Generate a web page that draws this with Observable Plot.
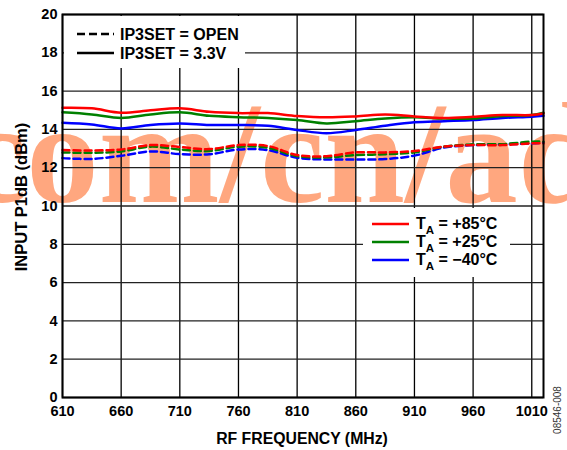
<!DOCTYPE html>
<html>
<head>
<meta charset="utf-8">
<script src="https://cdn.jsdelivr.net/npm/d3@7"></script>
<script src="https://cdn.jsdelivr.net/npm/@observablehq/plot@0.6"></script>
<style>
  html, body { margin: 0; padding: 0; background: #fff; }
</style>
</head>
<body>
<div id="chart"></div>
<script>
// ---- data ----
const freq = [610, 635, 660, 685, 710, 735, 760, 785, 810, 835, 860, 885, 910, 935, 960, 985, 1010, 1020];
const solid85  = [15.13, 15.10, 14.87, 15.00, 15.10, 14.92, 14.85, 14.85, 14.70, 14.63, 14.68, 14.78, 14.68, 14.60, 14.66, 14.75, 14.75, 14.83];
const solid25  = [14.89, 14.78, 14.60, 14.78, 14.89, 14.71, 14.64, 14.60, 14.49, 14.31, 14.43, 14.57, 14.63, 14.57, 14.57, 14.70, 14.75, 14.87];
const solidM40 = [14.35, 14.26, 14.05, 14.23, 14.31, 14.23, 14.23, 14.19, 13.97, 13.80, 13.97, 14.19, 14.37, 14.43, 14.49, 14.60, 14.66, 14.71];
const dashed85  = [12.92, 12.90, 12.95, 13.18, 13.08, 12.97, 13.18, 13.13, 12.66, 12.60, 12.80, 12.80, 12.87, 13.10, 13.18, 13.18, 13.27, 13.27];
const dashed25  = [12.80, 12.78, 12.85, 13.10, 12.95, 12.87, 13.10, 13.04, 12.60, 12.54, 12.66, 12.70, 12.80, 13.10, 13.22, 13.23, 13.36, 13.36];
const dashedM40 = [12.50, 12.46, 12.62, 12.85, 12.71, 12.70, 12.95, 12.92, 12.52, 12.43, 12.43, 12.45, 12.63, 13.05, 13.18, 13.22, 13.27, 13.30];

const tempLabels = ["+85°C", "+25°C", "−40°C"];
const tempColors = ["#ff0000", "#008000", "#0000ff"];
const modeLabels = ["IP3SET = OPEN", "IP3SET = 3.3V"];
const xTicks = [610, 660, 710, 760, 810, 860, 910, 960, 1010];
const yTicks = [0, 2, 4, 6, 8, 10, 12, 14, 16, 18, 20];
const xLabel = "RF FREQUENCY (MHz)";
const yLabel = "INPUT P1dB (dBm)";
const watermark = "com/cn/ad";
const figureId = "08546-008";

// ---- tidy rows ----
function rows(values, key, color) {
  return freq.map((f, i) => ({f, v: values[i], key, color}));
}
const solidRows = [
  ...rows(solidM40, "s-40", tempColors[2]),
  ...rows(solid25, "s25", tempColors[1]),
  ...rows(solid85, "s85", tempColors[0])
];
const dashedRows = [
  ...rows(dashedM40, "d-40", tempColors[2]),
  ...rows(dashed25, "d25", tempColors[1]),
  ...rows(dashed85, "d85", tempColors[0])
];

const FONT = "'Liberation Sans', Arial, sans-serif";

const chart = Plot.plot({
  width: 567,
  height: 450,
  marginLeft: 62,
  marginRight: 24,
  marginTop: 14,
  marginBottom: 53,
  style: {fontFamily: FONT, fontWeight: "bold", fontSize: "14.5px", color: "#000", background: "#fff"},
  x: {domain: [610, 1020]},
  y: {domain: [0, 20]},
  color: {type: "identity"},
  marks: [
    Plot.gridX(xTicks, {stroke: "#000", strokeOpacity: 1, strokeWidth: 1.3}),
    Plot.gridY(yTicks, {stroke: "#222", strokeOpacity: 1, strokeWidth: 1.3}),
    Plot.line(dashedRows, {x: "f", y: "v", z: "key", stroke: "color", strokeWidth: 2.5, strokeDasharray: "7,4", curve: "catmull-rom"}),
    Plot.line(solidRows, {x: "f", y: "v", z: "key", stroke: "color", strokeWidth: 2.5, curve: "catmull-rom"}),
    Plot.frame({stroke: "#000", strokeWidth: 2}),
    Plot.axisX(xTicks, {tickSize: 0, tickPadding: 8, fontSize: 14.5, fontWeight: "bold", tickFormat: d => String(d), label: null}),
    Plot.axisY(yTicks, {tickSize: 0, tickPadding: 5, fontSize: 14.5, fontWeight: "bold", tickFormat: d => String(d), label: null})
  ]
});
document.getElementById("chart").appendChild(chart);

const svg = d3.select(chart);

// watermark behind everything
svg.insert("text", ":first-child")
  .attr("x", -38).attr("y", 202)
  .attr("text-anchor", "start")
  .attr("font-family", "'Liberation Serif', 'Times New Roman', serif")
  .attr("font-weight", "bold")
  .attr("font-size", 145)
  .attr("fill", "#ffa77f")
  .text(watermark);

// axis labels
svg.append("text")
  .attr("x", 302).attr("y", 444)
  .attr("text-anchor", "middle")
  .attr("font-size", 15.8).attr("font-weight", "bold").attr("font-family", FONT)
  .attr("fill", "#000")
  .text(xLabel);
svg.append("text")
  .attr("transform", "translate(27,197) rotate(-90)")
  .attr("text-anchor", "middle")
  .attr("font-size", 16.5).attr("font-weight", "bold").attr("font-family", FONT)
  .attr("fill", "#000")
  .text(yLabel);

// legend 1: line styles
const lg1 = svg.append("g").attr("text-anchor", "start");
lg1.append("rect").attr("x", 64).attr("y", 16).attr("width", 181).attr("height", 52).attr("fill", "#fff");
[["8,4"], [null]].forEach((d, i) => {
  const y = 34 + i * 19;
  lg1.append("line").attr("x1", 77).attr("x2", 114).attr("y1", y).attr("y2", y)
    .attr("stroke", "#000").attr("stroke-width", 2.5)
    .attr("stroke-dasharray", d[0]);
  lg1.append("text").attr("x", 120).attr("y", y + 5.5)
    .attr("text-anchor", "start")
    .attr("font-size", 16).attr("font-weight", "bold")
    .attr("font-family", FONT)
    .text(modeLabels[i]);
});

// legend 2: temperatures
const lg2 = svg.append("g").attr("text-anchor", "start");
lg2.append("rect").attr("x", 363).attr("y", 208).attr("width", 147).attr("height", 69).attr("fill", "#fff");
tempLabels.forEach((lab, i) => {
  const y = 224 + i * 18;
  lg2.append("line").attr("x1", 372).attr("x2", 409).attr("y1", y).attr("y2", y)
    .attr("stroke", tempColors[i]).attr("stroke-width", 2.5);
  const t = lg2.append("text").attr("x", 416).attr("y", y + 5)
    .attr("text-anchor", "start")
    .attr("font-size", 16).attr("font-weight", "bold")
    .attr("font-family", FONT);
  t.append("tspan").text("T");
  t.append("tspan").attr("dy", 5).attr("font-size", 11.5).text("A");
  t.append("tspan").attr("dy", -5).text(" = " + lab);
});

// figure id
svg.append("text")
  .attr("transform", "translate(561,410) rotate(-90)")
  .attr("text-anchor", "middle")
  .attr("font-size", 10)
  .attr("font-weight", "normal")
  .attr("font-family", FONT)
  .attr("fill", "#333")
  .text(figureId);
</script>
</body>
</html>
